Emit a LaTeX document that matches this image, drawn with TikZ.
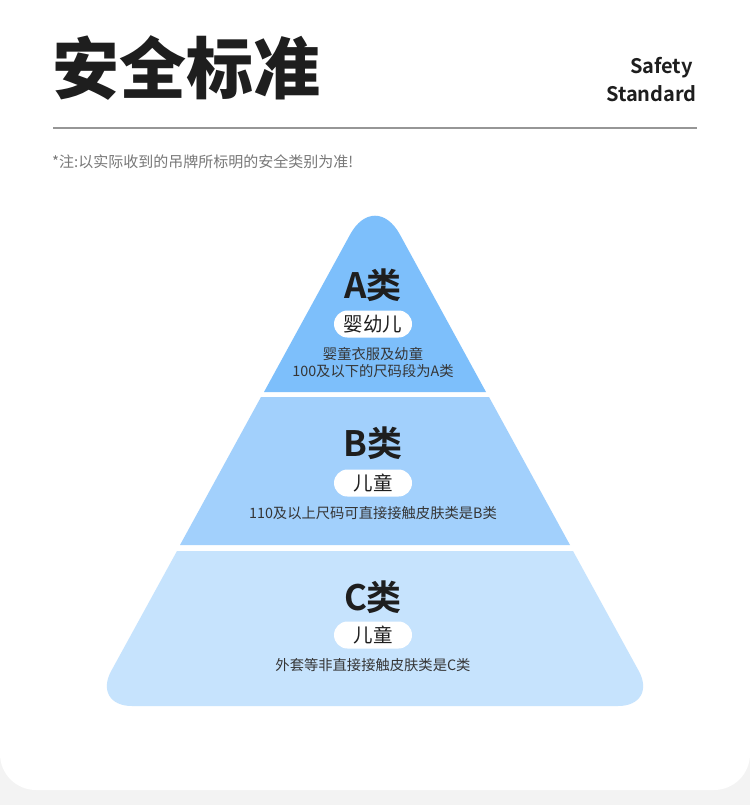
\documentclass[tikz,border=0pt]{standalone}
\usepackage{fontspec}
\setmainfont{Noto Sans CJK SC}[BoldFont={Noto Sans CJK SC Bold}]
\newfontfamily\heavyfont{Noto Sans CJK SC Black}
\usetikzlibrary{positioning}
\definecolor{pageGray}{RGB}{243,243,243}
\definecolor{tierA}{RGB}{125,191,251}
\definecolor{tierB}{RGB}{162,208,252}
\definecolor{tierC}{RGB}{198,227,253}
\definecolor{ruleGray}{RGB}{150,150,150}
\definecolor{noteGray}{RGB}{120,120,120}
\definecolor{inkDark}{RGB}{30,30,30}

\begin{document}
\begin{tikzpicture}[x=1pt, y=-1pt,
  title/.style={inner sep=0pt, text=inkDark, font=\heavyfont\fontsize{67}{72}\selectfont},
  entitle/.style={inner sep=0pt, anchor=east, text=inkDark, font=\bfseries\fontsize{20}{22}\selectfont},
  cls/.style={inner sep=0pt, text=inkDark, font=\bfseries\fontsize{35}{38}\selectfont},
  pill/.style={fill=white, rounded corners=13.5pt, minimum width=78pt, minimum height=27pt, inner sep=0pt, text=inkDark, font=\fontsize{19.5}{20}\selectfont},
  desc/.style={inner sep=0pt, align=center, text=inkDark!90, font=\fontsize{14.3}{17}\selectfont}]
\useasboundingbox (0,0) rectangle (750,805);
\fill[pageGray] (0,0) rectangle (750,805);
\fill[white, rounded corners=36pt] (0,-60) rectangle (750,790);
% header
\node[title] (ttl) at (186,68) {安全标准};
\node[entitle] (en1) at (693,68) {Safety};
\node[entitle] (en2) at (697,94) {Standard};
\coordinate (ruleL) at (53,128);
\coordinate (ruleR) at (697,128);
\draw[ruleGray, line width=1.6pt] (ruleL) -- (ruleR);
\node[inner sep=0pt, anchor=west, text=noteGray, font=\fontsize{15}{16}\selectfont] (note) at (52,162) {*注:以实际收到的吊牌所标明的安全类别为准!};
% pyramid
\fill[tierA] (264,392) [rounded corners=52pt] -- (375,189) [sharp corners] -- (486,392) -- cycle;
\fill[tierB] (261,397) -- (489,397) -- (570,545) -- (180,545) -- cycle;
\fill[tierC] (177,551) -- (573,551) [rounded corners=40pt] -- (658,706) -- (92,706) [sharp corners] -- cycle;
% tier A
\node[cls] (clsA) at (373,285) {A类};
\node[pill] (pillA) at (373,324) {婴幼儿};
\node[desc] (descA) at (373,363) {婴童衣服及幼童\\100及以下的尺码段为A类};
% tier B
\node[cls] (clsB) at (373,443) {B类};
\node[pill] (pillB) at (373,483) {儿童};
\node[desc] (descB) at (373,513) {110及以上尺码可直接接触皮肤类是B类};
% tier C
\node[cls] (clsC) at (373,597) {C类};
\node[pill] (pillC) at (373,635) {儿童};
\node[desc] (descC) at (373,665) {外套等非直接接触皮肤类是C类};
\end{tikzpicture}
\end{document}
